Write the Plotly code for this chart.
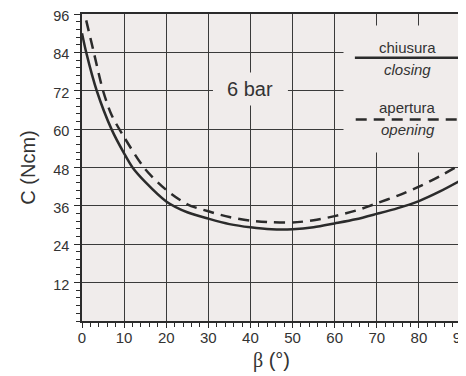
import plotly.graph_objects as go

# Data
beta_closing = [0, 1, 3.5, 7, 10, 12, 15, 20, 25, 30, 35, 40, 45, 50, 55, 60, 65, 70, 75, 80, 85, 90]
torque_closing = [90, 84, 72, 60, 52.4, 48, 43.5, 37.4, 34, 32, 30.3, 29.3, 28.7, 28.7, 29.3, 30.5, 31.8, 33.5, 35.3, 37.5, 40.5, 44]

beta_opening = [1, 2.8, 5, 7, 10, 15, 20, 25, 30, 35, 40, 45, 50, 55, 60, 65, 70, 75, 80, 85, 90]
torque_opening = [94, 84, 72, 64.5, 57.5, 47.5, 41, 36.5, 34.3, 32.5, 31.4, 30.9, 30.8, 31.5, 32.8, 34.5, 36.8, 39.2, 42, 45.3, 49]

x_ticks = [0, 10, 20, 30, 40, 50, 60, 70, 80, 90]
y_ticks = [12, 24, 36, 48, 60, 72, 84, 96]

pressure_label = "6 bar"
legend_labels = [("chiusura", "closing"), ("apertura", "opening")]

INK = "#2b2b2b"
TXT = "#333333"
BG = "#f0eceb"
FONT = "Liberation Sans, Arial, sans-serif"

fig = go.Figure()
fig.add_trace(go.Scatter(x=beta_closing, y=torque_closing, mode="lines",
                         line=dict(color=INK, width=2.5, shape="spline", smoothing=0.8),
                         showlegend=False, hoverinfo="skip"))
fig.add_trace(go.Scatter(x=beta_opening, y=torque_opening, mode="lines",
                         line=dict(color=INK, width=2.5, dash="11px,7px", shape="spline", smoothing=0.8),
                         showlegend=False, hoverinfo="skip"))

# background patches that interrupt the grid behind labels
fig.add_shape(type="rect", xref="x", yref="y", x0=31.1, x1=48.9, y0=67.4, y1=77.7,
              fillcolor=BG, line=dict(width=0), layer="between")
fig.add_shape(type="rect", xref="x", yref="y", x0=62.1, x1=89.6, y0=52.7, y1=92.4,
              fillcolor=BG, line=dict(width=0), layer="between")

# legend sample lines
fig.add_shape(type="line", xref="x", yref="y", x0=64.8, x1=89.3, y0=82.3, y1=82.3,
              line=dict(color=INK, width=2.5), layer="above")
fig.add_shape(type="line", xref="x", yref="y", x0=65.0, x1=89.0, y0=63.0, y1=63.0,
              line=dict(color=INK, width=2.5, dash="11px,7px"), layer="above")

fig.add_annotation(x=40, y=72.5, xref="x", yref="y", text=pressure_label, showarrow=False,
                   font=dict(family=FONT, size=20, color=TXT))
for (it, en), yt, ye in zip(legend_labels, [85.6, 66.9], [78.6, 59.9]):
    fig.add_annotation(x=77.4, y=yt, xref="x", yref="y", text=it, showarrow=False,
                       font=dict(family=FONT, size=15, color=TXT))
    fig.add_annotation(x=77.4, y=ye, xref="x", yref="y", text="<i>" + en + "</i>", showarrow=False,
                       font=dict(family=FONT, size=15, color=TXT))

fig.update_xaxes(range=[0, 90], tickvals=x_ticks, ticktext=[str(v) for v in x_ticks],
                 showgrid=True, gridcolor="#3a3a3a", gridwidth=1.3,
                 showline=True, mirror=True, linecolor=INK, linewidth=1.5, zeroline=False,
                 ticks="outside", ticklen=5, tickwidth=1.3, tickcolor=INK,
                 minor=dict(dtick=2, tick0=0, ticks="outside", ticklen=4, tickwidth=1.2,
                            tickcolor=INK, showgrid=False),
                 ticklabeloverflow="allow", ticklabelstandoff=-3, automargin=False,
                 tickfont=dict(family=FONT, size=15, color=TXT),
                 title=dict(text="<span style='font-family:Liberation Serif, DejaVu Serif, serif'>β</span> (°)",
                            font=dict(family=FONT, size=20, color=TXT), standoff=8))
fig.update_yaxes(range=[0, 96], tickvals=y_ticks, ticktext=[str(v) for v in y_ticks],
                 showgrid=True, gridcolor="#3a3a3a", gridwidth=1.3,
                 showline=True, mirror=True, linecolor=INK, linewidth=1.5, zeroline=False,
                 ticks="outside", ticklen=6, tickwidth=1.3, tickcolor=INK,
                 minor=dict(dtick=2.4, tick0=0, ticks="outside", ticklen=4, tickwidth=1.2,
                            tickcolor=INK, showgrid=False),
                 ticklabeloverflow="allow", ticklabelstandoff=2, ticklabelshift=2, automargin=False,
                 tickfont=dict(family=FONT, size=14.5, color=TXT),
                 title=dict(text="C (Ncm)", font=dict(family=FONT, size=20, color=TXT), standoff=12))

# page body has an 8px margin, so the figure is offset by 8px
fig.update_layout(width=458, height=368, margin=dict(l=74, r=5, t=6, b=55, autoexpand=False),
                  plot_bgcolor=BG, paper_bgcolor="white", showlegend=False)

fig.write_html("out.html")
